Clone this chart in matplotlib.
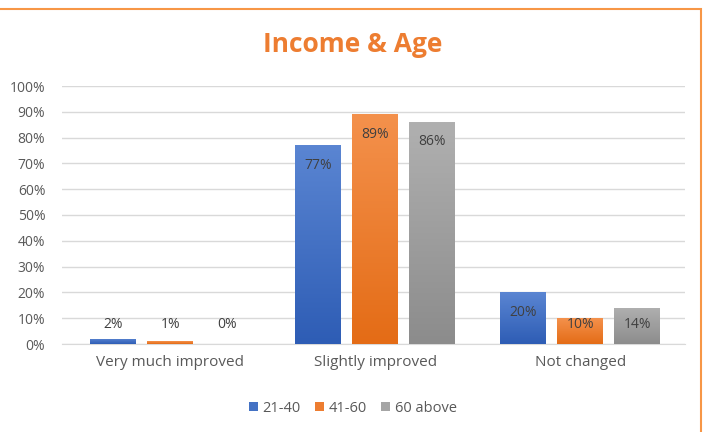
import numpy as np
import matplotlib.pyplot as plt
from matplotlib.patches import Rectangle
from matplotlib.colors import LinearSegmentedColormap

categories = ['Very much improved', 'Slightly improved', 'Not changed']
groups = ['21-40', '41-60', '60 above']
v_21_40 = [2, 77, 20]
v_41_60 = [1, 89, 10]
v_60_above = [0, 86, 14]

series = [v_21_40, v_41_60, v_60_above]
solid = ['#4472C4', '#ED7D31', '#A5A5A5']
tops = ['#5A85D2', '#F4914C', '#B0B0B0']
bottoms = ['#2E5DB5', '#E46C16', '#8C8C8C']

plt.rcParams['font.family'] = ['Open Sans', 'DejaVu Sans']

fig = plt.figure(figsize=(7.06, 4.32), dpi=100)
ax = fig.add_axes([62/706, 1-344/432, (685-62)/706, (344-86)/432])

x = np.arange(len(categories))
w = 0.224
step = 0.278

for i, vals in enumerate(series):
    pos = x + (i - 1) * step
    bars = ax.bar(pos, vals, w, color=solid[i], label=groups[i], zorder=2)
    cmap = LinearSegmentedColormap.from_list('g%d' % i, [bottoms[i], tops[i]])
    for b, v in zip(bars, vals):
        ax.text(b.get_x() + w/2, max(v - 7.7, 7.4), '%d%%' % v,
                ha='center', va='center', fontsize=10, color='#404040', zorder=4)
        if v <= 0:
            continue
        grad = np.linspace(0, 1, 100).reshape(-1, 1)
        im = ax.imshow(grad, cmap=cmap, origin='lower', aspect='auto',
                       extent=[b.get_x(), b.get_x() + w, 0, v], zorder=3)
        im.set_clip_path(b)

ax.set_xlim(-0.527, 2.51)
ax.set_ylim(0, 100)
ax.set_yticks(np.arange(0, 101, 10))
ax.set_yticklabels(['%d%%' % t for t in range(0, 101, 10)])
ax.set_xticks(x)
ax.set_xticklabels(categories)
ax.tick_params(axis='y', length=0, labelsize=10, colors='#595959', pad=12)
ax.tick_params(axis='x', length=0, labelsize=11, colors='#595959', pad=8)
ax.yaxis.grid(True, color='#D9D9D9', linewidth=1, zorder=0)
ax.set_axisbelow(True)
for s in ['top', 'right', 'left']:
    ax.spines[s].set_visible(False)
ax.spines['bottom'].set_color('#D9D9D9')

fig.text(0.5, 1 - 44/432, 'Income & Age', ha='center', va='center',
         fontsize=19, fontweight='bold', color='#ED7D31')

leg = fig.legend(loc='center', bbox_to_anchor=(0.5, 1 - 408/432), ncol=3,
                 frameon=False, fontsize=10.5, handlelength=0.6, handleheight=0.6,
                 handletextpad=0.3, columnspacing=1.0)
for t in leg.get_texts():
    t.set_color('#595959')

fig.patches.append(Rectangle((-0.01, -0.1), 701/706 + 0.01, 1 - 9/432 + 0.1,
                             transform=fig.transFigure, fill=False,
                             edgecolor='#F79646', linewidth=1.5))

fig.savefig('out.png', dpi=100)
